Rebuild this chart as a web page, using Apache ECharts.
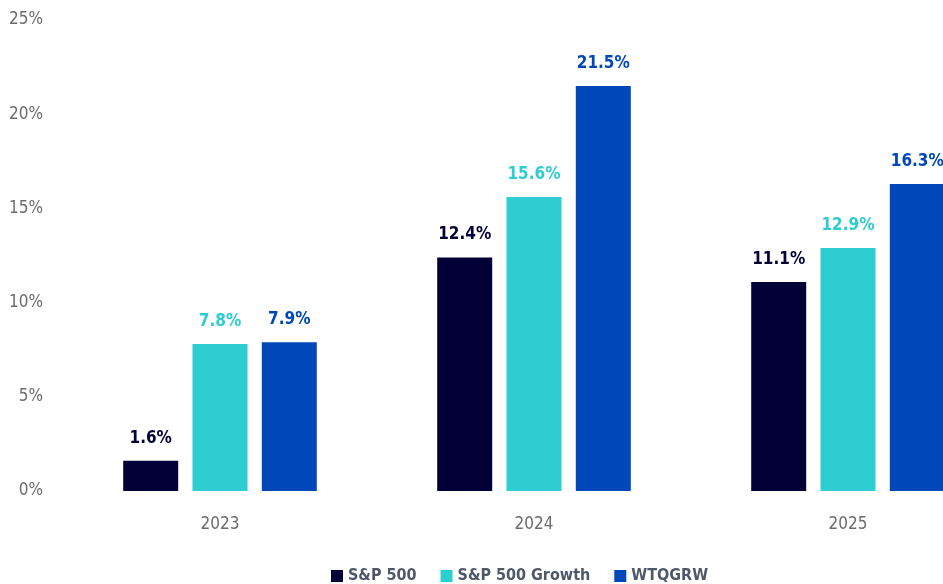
<!DOCTYPE html>
<html>
<head>
<meta charset="utf-8">
<script src="https://cdn.jsdelivr.net/npm/echarts@6/dist/echarts.min.js"></script>
<style>
  html, body { margin: 0; padding: 0; background: #fff; overflow: hidden; }
  #chart { width: 1010px; height: 584px; }
</style>
</head>
<body>
<div id="chart"></div>
<script>
  // years on the x axis
  var years = ['2023', '2024', '2025'];
  // series names
  var seriesNames = ['S&P 500', 'S&P 500 Growth', 'WTQGRW'];
  // returns in %
  var sp500 = [1.6, 12.4, 11.1];
  var sp500Growth = [7.8, 15.6, 12.9];
  var wtqgrw = [7.9, 21.5, 16.3];
  var colors = ['#020036', '#2ecdd2', '#0048b9'];
  var fontFamily = '"Liberation Sans Narrow", "DejaVu Sans Condensed", "Noto Sans", sans-serif';

  var chart = echarts.init(document.getElementById('chart'));

  function makeSeries(name, data, color) {
    return {
      name: name,
      type: 'bar',
      data: data,
      barWidth: 55,
      barGap: '26%',
      itemStyle: {color: color},
      label: {
        show: true,
        position: 'top',
        distance: 14,
        color: color,
        fontFamily: fontFamily,
        fontWeight: 'bold',
        fontSize: 17,
        formatter: function (p) {
          return p.value.toFixed(1) + '%';
        }
      }
    };
  }

  chart.setOption({
    animation: false,
    color: colors,
    grid: {
      left: 63,
      right: 5,
      top: 20,
      bottom: 93
    },
    legend: {
      left: 326,
      top: 563,
      itemWidth: 12,
      itemHeight: 12,
      itemGap: 24,
      itemTextGap: 4,
      icon: 'rect',
      textStyle: {
        color: '#4f5868',
        fontFamily: fontFamily,
        fontWeight: 'bold',
        fontSize: 16
      },
      data: seriesNames
    },
    xAxis: {
      type: 'category',
      data: years,
      axisLine: {show: false},
      axisTick: {show: false},
      axisLabel: {
        margin: 25,
        color: '#6b6b6b',
        fontFamily: fontFamily,
        fontSize: 17
      }
    },
    yAxis: {
      type: 'value',
      min: 0,
      max: 25,
      interval: 5,
      splitLine: {show: false},
      axisLine: {show: false},
      axisTick: {show: false},
      axisLabel: {
        margin: 20,
        color: '#6b6b6b',
        fontFamily: fontFamily,
        fontSize: 17,
        formatter: '{value}%'
      }
    },
    series: [
      makeSeries(seriesNames[0], sp500, colors[0]),
      makeSeries(seriesNames[1], sp500Growth, colors[1]),
      makeSeries(seriesNames[2], wtqgrw, colors[2])
    ]
  });
</script>
</body>
</html>
